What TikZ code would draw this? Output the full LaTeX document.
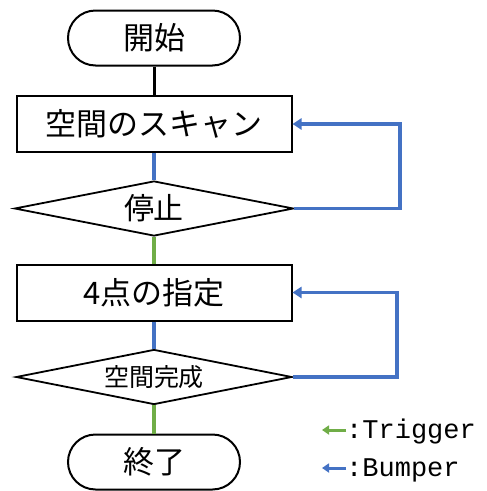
\documentclass[tikz,border=0pt]{standalone}
\usepackage{fontspec}
\setmainfont{Liberation Serif}
\newfontfamily\cjk{Noto Sans CJK JP}
\newfontfamily\legfont{Liberation Mono}
\usetikzlibrary{shapes.geometric,shapes.misc,arrows.meta}
\definecolor{bblue}{HTML}{4472C4}
\definecolor{ggreen}{HTML}{70AD47}
\begin{document}
\begin{tikzpicture}[x=1pt,y=-1pt,
  term/.style={draw=black,line width=2pt,rounded rectangle,minimum width=172pt,minimum height=55pt,inner sep=0pt,font=\cjk\fontsize{31}{34}\selectfont},
  procbox/.style={draw=black,line width=2pt,rectangle,minimum width=275pt,minimum height=56pt,inner sep=0pt,font=\cjk\fontsize{31}{34}\selectfont},
  decide/.style={draw=black,line width=1.8pt,diamond,aspect=5,minimum height=55pt,inner sep=0pt},
  blk/.style={draw=black,line width=3pt},
  bl/.style={draw=bblue,line width=3.2pt},
  gr/.style={draw=ggreen,line width=3.2pt},
  fb/.style={draw=bblue,line width=3.2pt,-{Triangle[length=9pt,width=11pt]}},
  legarr/.style={line width=3pt,-{Triangle[length=7pt,width=9pt]}},
  legtxt/.style={anchor=west,inner sep=0pt,font=\legfont\fontsize{27}{29}\selectfont}
]
\useasboundingbox (0,0) rectangle (487,491);
\node[term] (start) at (154,38) {開始};
\node[procbox] (scan) at (154,124) {空間のスキャン};
\node[decide,minimum width=279pt,font=\cjk\fontsize{30}{32}\selectfont] (stop) at (154,208.5) {停止};
\node[procbox] (pts) at (154,292.5) {4点の指定};
\node[decide,minimum width=276pt,font=\cjk\fontsize{25}{28}\selectfont] (done) at (154,377) {空間完成};
\node[term] (end) at (154,462) {終了};

\draw[blk] (start) -- (scan);
\draw[bl] (scan.south) -- (stop.north);
\draw[gr] (stop.south) -- (pts.north);
\draw[bl] (pts.south) -- (done.north);
\draw[gr] (done.south) -- (end.north);

\coordinate (r1) at (400,0);
\coordinate (r2) at (397,0);
\draw[fb] (stop.east) -- (stop.east -| r1) -- (scan.east -| r1) -- (scan.east);
\draw[fb] (done.east) -- (done.east -| r2) -- (pts.east -| r2) -- (pts.east);

\coordinate (g1) at (346,430);
\coordinate (g2) at (322,430);
\coordinate (b1) at (346,468);
\coordinate (b2) at (322,468);
\draw[legarr,draw=ggreen] (g1) -- (g2);
\draw[legarr,draw=bblue] (b1) -- (b2);
\node[legtxt] (lt) at (346,432) {:Trigger};
\node[legtxt] (lb) at (346,470) {:Bumper};
\end{tikzpicture}
\end{document}
